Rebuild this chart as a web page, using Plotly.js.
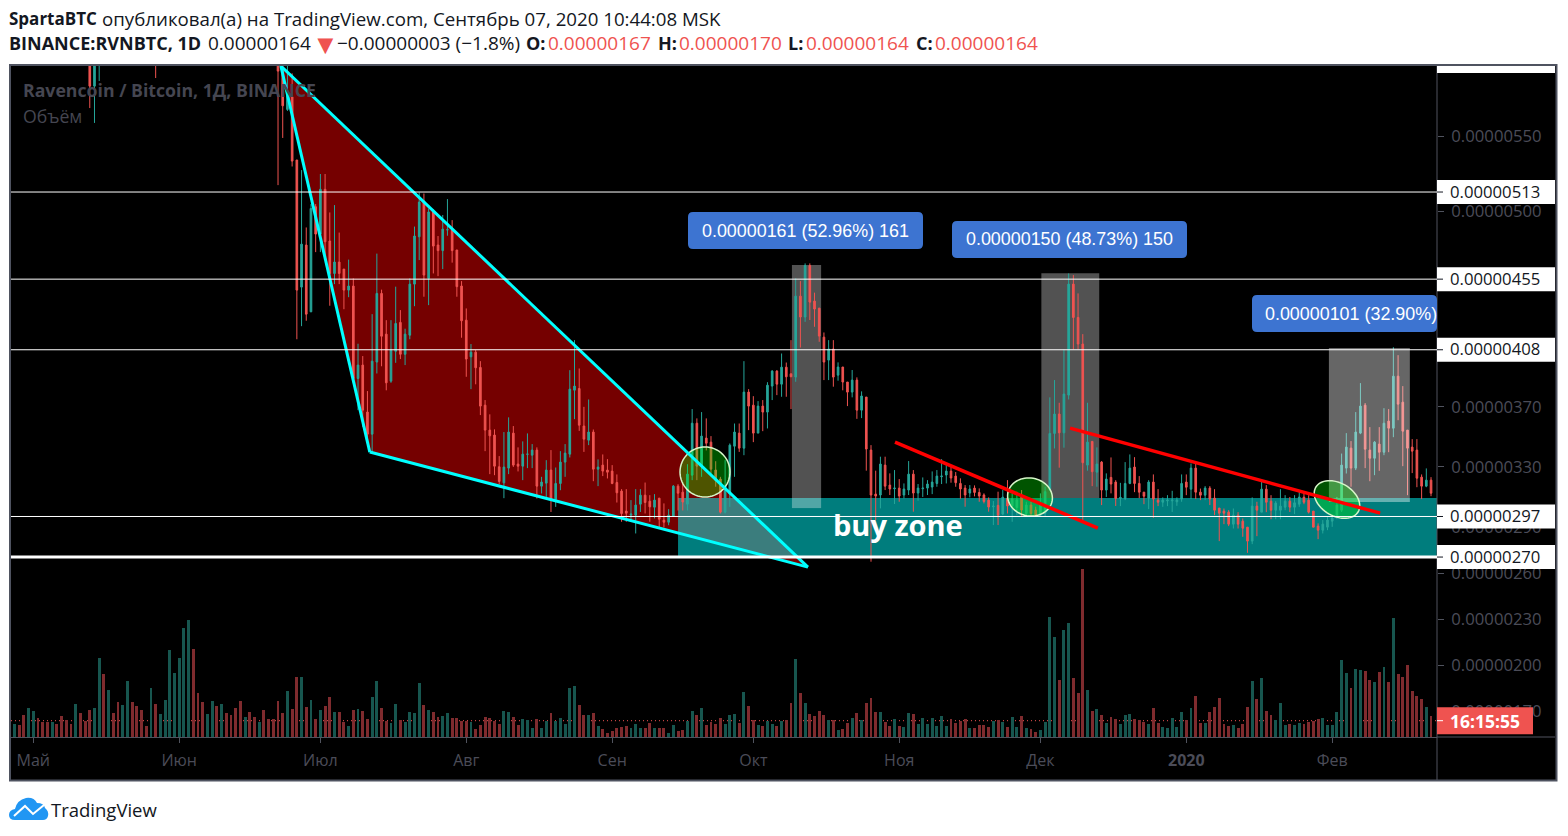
<!DOCTYPE html>
<html><head><meta charset="utf-8"><script src="https://cdn.plot.ly/plotly-3.0.1.min.js"></script>
<style>html,body{margin:0;padding:0;background:#fff}#c{width:1568px;height:836px}</style></head><body><div id="c"></div>
<script>
// Day index 0 = 1 May 2019. Prices in satoshi (1e-8 BTC).
const earlyDays=[12,13,14,26];
const earlyOpen=[640,583.5,610,640];
const earlyHigh=[650,630,625,650];
const earlyLow=[568.9,559,586.9,588.9];
const earlyClose=[583.5,620,620,610];
const firstDay=52;
const opens=[598,594,568,576.4,534.3,449.7,477.7,433.3,503.2,485,514.8,480.4,458.8,466.4,461.7,447.7,450.4,388.9,397.8,366.5,351.8,399.8,445.5,418.4,387.1,407,426.2,405,417.7,451.7,483.2,507,455.5,499.7,477.7,474,487.8,488,474.4,450.4,427.7,403.3,406.4,396.2,371.1,354.5,351.2,330.1,319.4,329.2,352.5,331.9,
330.5,338.4,337.8,341.2,317.2,319.2,327.9,308.3,319,333.2,338.5,381.1,382.2,357.2,347.8,353.2,328.5,331.2,327.9,327.2,319.6,313.9,300.6,297.9,297.9,305.2,311.2,307.2,303.2,309.2,294.6,293.2,297.2,317.2,313.2,305.2,324.5,359.1,330.5,349.2,346.5,327.9,321.9,299.9,311.9,343.8,352.5,342.5,379.8,371.1,352.5,370.5,366.5,383.8,393.8,385.1,396.4,
392,389.8,443.7,429.8,464.1,440.4,435.7,416.4,401.1,408.5,391.1,396.5,386.5,379.8,387.8,367.8,376.5,341.2,311.9,311.3,331.2,317.9,315.5,315.9,311.3,314.6,325.2,312.6,315.5,315.9,316.6,319,323.5,324.6,327.2,323.9,319,315.9,312.6,315.9,313,311.3,307.9,303.5,304.4,298.6,309.2,304,303,311.3,299,304.6,301.3,297.9,299,314.6,352.3,365.2,352.7,377.8,451.7,429.5,411.8,331.2,347,326.5,333.2,314.6,323,319.9,
309,309,319,329.9,319,313.2,309.2,319.9,307.9,306.5,307.4,307.4,306.8,308.6,319.9,315.2,329.2,313.2,311.2,315.9,309.2,302.6,300.6,299.9,291.9,297.9,293.9,289.9,280.6,303.9,299.9,315.2,307.2,301.2,301.2,303.2,307.2,303.2,305.2,309.9,307.9,300.6,290.6,287.9,289.9,293.9,296.8,301.2,329.2,342.5,329.2,352.5,371.1,341.2,335.8,345.2,339.8,360.5,355.8,390.4,373.1,354.5,343.2,341.2,323.2,317.2,321.2];
const highs=[610,602,597,592,534.3,527.6,489.4,505,505,525,525,499.4,504.3,486,461.7,468,455.5,412,403.8,380.5,431.7,472,448,427.7,427.7,450,434.4,422,455.5,490,512.7,512,502,501.4,483.7,497.7,508.3,494.3,474.4,453.7,435.5,411.8,407.8,400.4,374.5,365,355,337.2,353.2,363,357.2,343,
347,352.3,345.2,343,323.4,334.5,341.2,329.6,340.5,345.2,394.4,414.4,395.5,370,374.9,354.9,335,338.3,335.2,331.2,325,315.2,315.2,307.9,315.2,315.2,319.6,311.2,311.9,309.2,305.7,301.9,317.9,318.5,320,331.8,368.5,362.3,366.5,362.3,350.5,333.8,323.4,334.5,345.6,358.9,358.9,400.4,381.8,377.1,373.8,374.5,386.4,394.4,394.4,405.5,399.5,
414.4,455.5,453.7,465.5,465.5,446,435.7,419.5,414.4,414.4,399.6,396.5,386.5,394.5,389.6,380.3,376.5,344.5,327.5,336.8,336.8,325.7,327.9,321.9,319,333.9,327.9,318.6,323,321.2,327,327.9,335.2,332.3,330,326.6,322.4,317.9,317.9,317.7,315.7,312.4,309.7,307.3,313.5,314.6,321.2,312.4,313.5,314.6,306.8,306.8,303.5,312.4,316.8,376.3,387.8,372.7,408.2,458.8,457.7,445.5,418.4,372.7,347,343,333.9,325.7,336.3,321.2,
319.4,333.2,338.3,336.5,323.9,313.2,321.2,325,315.2,309.7,311.2,314.1,309.7,325,325,332.3,333.8,315.6,317.2,317.2,315.2,302.6,302.3,301.2,302.3,299.9,295.7,289.9,309.7,306.8,321.6,317.9,311.2,307.2,315.2,311.2,310,311.2,313.4,313.9,311.2,300.6,292.4,294.6,296.8,296.5,310,338.9,352.5,347.2,366.5,385.8,372.5,356.5,347.2,356.5,369.1,368.5,409.7,404.4,383.8,354.5,348.5,348.5,325,329,323.2];
const lows=[517.6,549,567,530,415,423.7,427.3,433,473,473,467.7,437.3,451.7,451.7,435,443,388,367.8,356.7,347.8,339,392.2,397,381,386,399.3,401.8,397.8,415,437,467.7,443.3,437.7,458.8,457,461.7,483.9,466,443.3,416,390,381.8,385,364.5,340.5,325.2,324.5,318.5,309.2,325.2,330,327,
321.2,329.2,329.2,309,312.3,310,300,303.4,314.5,323.4,336.3,361.8,354,340,344.5,320.5,317.2,323.9,322.3,318.5,306.3,293.5,293.5,294.6,285.7,300,299,293.5,295.7,289,289.7,291.2,296.8,301,301,301,321.2,321.2,323.4,341,325.6,316.8,299,299,303.4,323.4,340,337.8,354.5,346.5,352.5,353.8,355.6,374.5,377.8,376.7,376.7,
368.5,386.7,409.5,426.6,427.8,423.3,413.3,387.8,387.8,383.4,387.4,381,370.5,376.3,362,362.5,327.5,266.9,294.6,302.4,314.6,311.3,305.3,306.8,309,311.3,300.2,307.5,310,311.3,311.9,316.8,318.6,319,319.5,316.8,308.8,303.5,309.7,310.4,306.8,305.7,300.2,291.3,291.3,297.9,299,293.5,298,296.8,296.8,296.8,296.8,296.8,296.8,314.6,342.3,329.5,342.8,374.9,408.2,408.2,294.2,327.5,317.2,316.8,304.6,310,312.4,304,
303.9,307.9,318.5,313.2,309.2,305.2,301.9,296.1,303.9,303.4,303.9,300,304.1,306.8,311.2,308.6,308.6,307.9,307.9,304.6,297.9,280.6,291.9,290.6,289,289,283.5,272.8,278.6,283.9,299.9,299.9,295.2,295.2,295.2,301.2,300,298.6,303.4,305.2,299,289.9,281.9,285.7,287.9,290.1,295.2,300,325.6,316.8,327.9,351.8,329.2,320.5,324.5,327.4,337.8,339.8,349.8,361.1,330.5,311.2,325.9,316.5,308.6,316.5,310.5];
const closes=[593.5,570.4,580,533.6,447.7,478.3,431.7,502,485,514.8,479.9,458.8,466.4,458.8,447.7,450.4,388.9,397.8,367.8,351.8,400.4,445.5,417,386,407.8,425.5,405,418.4,451.7,483.7,506.3,457.7,499.7,477,474,488.3,487.9,474,450,427.3,401.8,406.4,396,370.5,354.5,350.7,330.5,320.3,329.9,353.2,331.2,330.5,
338.5,338.5,341.2,317.2,319.9,327.9,308.3,319,333.2,339.2,381.8,383.8,357.8,348.5,353.2,328.5,329.9,327.2,326.5,319,312.8,299,299.2,298.6,304.6,311.2,306.3,303.4,307.9,295.2,293.2,297.9,317.2,312.5,306.6,325.2,359.1,330.5,350.5,345.8,328.5,321,299.9,317.4,344.5,353.2,342.5,379.8,370.5,352.5,370.5,366.5,384.4,393.8,385.1,396.4,390,
390,443.7,429.8,464.1,439.7,435.1,417.1,399.8,408.5,389.8,396.5,386.5,379.8,387.8,367.8,377.2,341.9,311.3,310.6,331.9,317.2,315.3,315.9,310.6,315.3,325.2,312.6,315.9,315.9,318.6,319.9,323.9,323.9,327.2,322.6,319.5,315.3,311.3,315.3,313,310.6,307,303.3,303.9,297.9,309.9,304,308.8,308,301.3,304.6,299,297.9,305.7,313.5,352.3,365.2,352.7,378.5,451.7,429.5,411.8,332.8,346.5,326.8,331.9,314.6,321.9,318.6,309,
309.7,319,329.2,319,313.2,310.5,319.9,308.6,306.5,307.9,307.9,307.9,307.9,319,316.5,329.2,313.2,311.2,315.9,308.6,301.2,299.2,299.2,291.9,297.9,291.9,289.2,280.6,303.9,301.2,315.2,306.5,301.2,305.9,303.9,307.2,303.2,306.1,309.9,306.5,299.9,289.9,287.9,291.9,294.6,296.1,304.6,331.2,343.2,329.2,353.2,370.5,341.8,335.8,346.5,339.8,359.1,355.8,390.4,371.8,353.8,342.5,340.5,322.5,317.2,321.2,312.5];
const volFirstDay=-4;
const volume=[39,36,66,87,78,57,45,45,45,39,63,51,39,99,72,48,81,87,237,189,141,72,105,96,168,105,93,81,33,147,99,69,111,261,192,237,327,351,264,132,105,69,108,93,99,72,66,87,108,60,75,60,45,81,54,54,108,72,138,84,180,180,90,111,54,81,93,120,75,75,45,33,81,84,78,54,120,168,87,48,42,99,51,45,75,72,162,96,81,75,60,63,72,57,57,48,48,45,24,36,60,57,48,39,78,75,60,36,
54,50,27,54,27,48,72,48,57,39,147,153,96,66,66,72,33,24,12,18,27,30,33,27,39,27,27,42,27,27,27,12,36,18,21,48,78,66,87,36,45,39,57,39,66,69,42,135,93,51,36,33,48,39,33,48,51,102,234,132,102,69,63,78,66,51,51,21,24,42,57,72,51,102,117,75,75,45,33,54,33,30,72,69,39,57,39,57,33,63,33,54,42,48,54,27,27,36,36,30,48,51,45,30,60,30,63,27,24,15,
21,45,360,300,171,321,342,177,132,504,141,78,84,66,42,60,54,39,66,69,54,51,45,39,87,42,30,27,57,30,75,51,87,123,42,42,75,90,117,39,33,36,27,39,90,168,114,177,78,66,51,102,36,39,36,42,39,45,48,54,57,36,36,75,231,192,147,204,201,198,171,165,195,210,165,357,189,180,216,138,123,114,90,63];
const volDirs=("grrggrrrgr rrrgrrrggr grrggrrrrg rgggggggrr rggrgrrrrg rrgrrrrrgr rgrgrgrrgr rgrgrrggrr ggrggggrgr rggrrrrgrr rrrrggrr "+
"gggrggrggg ggrrgrgrrr rrrgggrrgr rggrrggrgr rrrgggrgrr grggrgrrgr grrrrgrgrr grgrrrgrrg rggrgggggg grrrrgrrrr grgrggrgrr "+
"ggggrggrrr grgrgrrggg rrrgrrgggg grgrrgrrrr rgrrrgrgrr gggrggrrrr ggggggrggr rgrgrgrrrr rrgr").replace(/ /g,"").split("");
const months=[0,31,61,92,123,153,184,214,245,276];
const monthLabels=["Май","Июн","Июл","Авг","Сен","Окт","Ноя","Дек","<b>2020</b>","Фев"];
const upperTicks=[290,330,370,500,550];
const lowerTicks=[170,200,230,260];
const levels=[513,455,408,297,270];
const lastPrice=164;
const wedge=[[52.6,596.9],[71.5,339.9],[164.6,263.3]];

const X0=11,X1=1437,Y0=66,Y1=737;
const px=x=>(x-X0)/(X1-X0), py=y=>1-(y-Y0)/(Y1-Y0);
const xRange=[-4.74,298.27];
const rng=[150.2,596.9], rngLow=[153.4,589.7];
const grey="#50535e",txt="#4b4c58",up="#26a69a",dn="#ef5350";
const fmt=v=>(v*1e-8).toFixed(8);

const days=earlyDays.concat(opens.map((_,i)=>firstDay+i));
const volX=volume.map((_,i)=>volFirstDay+i);

const traces=[
 {type:"bar",x:volX,y:volume,yaxis:"y3",xaxis:"x",width:0.62,marker:{color:volume.map((_,i)=>volDirs[i]==="g"?"#17564f":"#7f2b2e"),line:{width:0}},hoverinfo:"skip"},
 {type:"candlestick",x:days,open:earlyOpen.concat(opens),high:earlyHigh.concat(highs),low:earlyLow.concat(lows),close:earlyClose.concat(closes),
  increasing:{line:{color:up,width:1},fillcolor:up},decreasing:{line:{color:dn,width:1},fillcolor:dn},whiskerwidth:0,xaxis:"x",yaxis:"y",hoverinfo:"skip"},
 {type:"scatter",mode:"lines",x:xRange,y:[lastPrice,lastPrice],yaxis:"y2",xaxis:"x",line:{color:dn,width:1,dash:"1px,3px"},hoverinfo:"skip"}
];

function rectPx(x0,y0,x1,y1,fill,layer,line){return {type:"rect",xref:"paper",yref:"paper",x0:px(x0),x1:px(x1),y0:py(y0),y1:py(y1),fillcolor:fill,layer:layer||"above",line:line||{width:0}}}
function roundPath(x0,y0,x1,y1,r){const f=(x,y)=>px(x)+","+py(y);
 return "M"+f(x0+r,y0)+" L"+f(x1-r,y0)+" Q"+f(x1,y0)+" "+f(x1,y0+r)+" L"+f(x1,y1-r)+" Q"+f(x1,y1)+" "+f(x1-r,y1)+" L"+f(x0+r,y1)+" Q"+f(x0,y1)+" "+f(x0,y1-r)+" L"+f(x0,y0+r)+" Q"+f(x0,y0)+" "+f(x0+r,y0)+" Z";}
function ellipsePath(cx,cy,rx,ry,deg){const a=deg*Math.PI/180;let s="";for(let i=0;i<=64;i++){const t=i/64*2*Math.PI,x=rx*Math.cos(t),y=ry*Math.sin(t);
 s+=(i?" L":"M")+px(cx+x*Math.cos(a)-y*Math.sin(a))+","+py(cy+x*Math.sin(a)+y*Math.cos(a));}return s+" Z";}
function pxPath(pts,close){return pts.map((p,i)=>(i?"L":"M")+px(p[0])+","+py(p[1])).join(" ")+(close?" Z":"");}
function lineD(a,b,color,w){return {type:"line",xref:"x",yref:"y",x0:a[0],y0:a[1],x1:b[0],y1:b[1],line:{color:color,width:w},layer:"above"}}
function lineP(x0,y0,x1,y1,color,w){return {type:"line",xref:"paper",yref:"paper",x0:px(x0),y0:py(y0),x1:px(x1),y1:py(y1),line:{color:color,width:w},layer:"above"}}

const wedgePath="M"+wedge.map(p=>p.join(",")).join(" L")+" Z";
const grayRect=(a,b,c,d,fill,layer)=>({type:"rect",xref:"x",yref:"y",x0:a,x1:b,y0:c,y1:d,fillcolor:fill,line:{width:0},layer:layer});
const ellipseStyle={fillcolor:"rgba(0,255,0,.33)",line:{color:"#d6f5c8",width:1.5},layer:"above",type:"path",xref:"paper",yref:"paper"};
const tagRight=px(1555);

const shapes=[
 rectPx(10,65,1556.5,780.5,"#000","below",{color:"#4f5360",width:2}),
 {type:"path",xref:"x",yref:"y",path:wedgePath,fillcolor:"#750000",line:{width:0},layer:"below"},
 {type:"rect",xref:"x",yref:"y",x0:137,x1:xRange[1],y0:270,y1:309.3,fillcolor:"rgba(0,255,255,.49)",line:{width:0},layer:"below"},
 grayRect(161.2,167.4,309.3,464.4,"#525252","below"),
 grayRect(161.2,167.4,302.6,309.3,"rgba(255,255,255,0.32)","below"),
 grayRect(214.2,226.5,309.3,459,"#525252","below"),
 grayRect(275.3,292.5,306.6,409.1,"rgba(255,255,255,0.4)","above"),
 Object.assign({path:ellipsePath(705,472,25,25,0)},ellipseStyle),
 Object.assign({path:ellipsePath(1030,497,22.5,19,10)},ellipseStyle),
 Object.assign({path:ellipsePath(1337,499.5,24.5,16.5,30)},ellipseStyle),
 lineD(wedge[0],wedge[2],"#00ffff",3),
 lineD(wedge[0],wedge[1],"#00ffff",3),
 lineD(wedge[1],wedge[2],"#00ffff",3),
 lineD([183.1,346.5],[226.2,289.3],"#ff0000",3.5),
 lineD([220.3,355.8],[286.2,299.2],"#ff0000",3.5),
 lineP(X1,Y0,X1,780,grey,1),
 lineP(X1,Y1,1555,Y1,grey,1),
 rectPx(X1,66,1555,73,"#fff"),
 ...levels.map(v=>({type:"line",xref:"x",yref:"y",x0:xRange[0],x1:xRange[1],y0:v,y1:v,line:{color:"#fff",width:v===270?3:1},layer:"above"})),
 ...levels.map(v=>({type:"rect",xref:"paper",yref:"y",x0:1,x1:tagRight,ysizemode:"pixel",yanchor:v,y0:-12,y1:12,fillcolor:"#fff",line:{width:0},layer:"above"})),
 ...levels.map(v=>({type:"line",xref:"paper",yref:"y",x0:1,x1:px(1443),y0:v,y1:v,line:{color:"#131722",width:1},layer:"above"})),
 {type:"rect",xref:"paper",yref:"y2",x0:1,x1:px(1533),ysizemode:"pixel",yanchor:lastPrice,y0:-13.5,y1:13.5,fillcolor:dn,line:{width:0},layer:"above"},
 {type:"line",xref:"paper",yref:"y2",x0:1,x1:px(1443),y0:lastPrice,y1:lastPrice,line:{color:"#fff",width:1},layer:"above"},
 {type:"path",xref:"paper",yref:"paper",path:roundPath(688,212,923,249,5),fillcolor:"#3d74d1",line:{width:0},layer:"above"},
 {type:"path",xref:"paper",yref:"paper",path:roundPath(952,221,1187,258,5),fillcolor:"#3d74d1",line:{width:0},layer:"above"},
 {type:"path",xref:"paper",yref:"paper",path:roundPath(1252,295,1437,332,5),fillcolor:"#3d74d1",line:{width:0},layer:"above"},
 {type:"path",xref:"paper",yref:"paper",layer:"above",fillcolor:"#2196f3",line:{width:0},
  path:(()=>{const f=(x,y)=>px(x)+","+py(y);return "M"+f(15,820)+" Q"+f(9,820)+" "+f(9,815)+" Q"+f(9,810)+" "+f(15,809)+" Q"+f(17,800)+" "+f(26,798)+" Q"+f(34,797)+" "+f(37,803)+" Q"+f(44,803)+" "+f(45,808)+" Q"+f(49,811)+" "+f(48,816)+" Q"+f(47,820)+" "+f(43,820)+" Z"})()},
 {type:"path",xref:"paper",yref:"paper",layer:"above",line:{color:"#fff",width:2},path:pxPath([[14,816],[25,806],[33,814],[44,805]])}
];

const ann=(x,y,t,o)=>Object.assign({xref:"paper",yref:"paper",x:px(x-2),y:py(y),text:t,showarrow:false,xanchor:"left",yanchor:"middle",align:"left",font:{family:"Open Sans",size:18.7,color:"#131722"}},o||{});
const hd=(size,color)=>({font:{family:"Open Sans",size:size,color:color||"#131722"}});
const annotations=[
 ann(9,18,"<b>SpartaBTC</b>",hd(17)),
 ann(102,18,"опубликовал(а) на TradingView.com, Сентябрь 07, 2020 10:44:08 MSK",hd(18.7)),
 ann(9,43,"<b>BINANCE:RVNBTC, 1D</b>",hd(18)),
 ann(208,43,"0.00000164",hd(19)),
 ann(312,43,"▼",hd(27,dn)),
 ann(337,43,"−0.00000003 (−1.8%)",hd(19)),
 ann(526,43,"<b>O:</b>",hd(18)),ann(548,43,"0.00000167",hd(19,dn)),
 ann(658,43,"<b>H:</b>",hd(18)),ann(679,43,"0.00000170",hd(19,dn)),
 ann(788,43,"<b>L:</b>",hd(18)),ann(806,43,"0.00000164",hd(19,dn)),
 ann(916,43,"<b>C:</b>",hd(18)),ann(935,43,"0.00000164",hd(19,dn)),
 ann(23,90,"<b>Ravencoin / Bitcoin, 1Д, BINANCE</b>",{font:{family:"Open Sans",size:17.7,color:"#454651"}}),
 ann(23,116,"Объём",{font:{family:"Open Sans",size:17.7,color:"#454651"}}),
 ann(805,230.5,"0.00000161 (52.96%) 161",{xanchor:"center",x:px(805),font:{family:"Liberation Sans",size:17.9,color:"#fff"}}),
 ann(1069,239.5,"0.00000150 (48.73%) 150",{xanchor:"center",x:px(1069),font:{family:"Liberation Sans",size:17.9,color:"#fff"}}),
 ann(1351,313.5,"0.00000101 (32.90%)",{xanchor:"center",x:px(1351),font:{family:"Liberation Sans",size:17.9,color:"#fff"}}),
 ann(898,524,"<b>buy zone</b>",{xanchor:"center",x:px(898),font:{family:"Open Sans",size:29,color:"#fff"}}),
 ...levels.map(v=>({xref:"paper",yref:"y",x:px(1448),y:v,yshift:1,text:fmt(v),showarrow:false,xanchor:"left",yanchor:"middle",font:{family:"Open Sans",size:16.7,color:"#131722"}})),
 {xref:"paper",yref:"y2",x:px(1448),y:lastPrice,text:"<b>16:15:55</b>",showarrow:false,xanchor:"left",yanchor:"middle",font:{family:"Open Sans",size:17.5,color:"#fff"}},
 ann(51,809,"TradingView",{font:{family:"Open Sans",size:18.5,color:"#131722"}})
];

const yCommon={side:"right",anchor:"x",showgrid:false,zeroline:false,showline:false,ticks:"outside",ticklen:6,tickcolor:grey,tickwidth:1,tickmode:"array",tickfont:{family:"Open Sans",size:16.7,color:txt},ticklabelstandoff:4,fixedrange:true};
const layout={
 width:1568,height:836,paper_bgcolor:"#fff",plot_bgcolor:"#000",showlegend:false,dragmode:false,boxgap:0.5,
 margin:{l:X0,r:1568-X1,t:Y0,b:836-Y1,pad:0},
 bargap:0,
 xaxis:{range:xRange,tickmode:"array",tickvals:months,ticktext:monthLabels,showgrid:false,zeroline:false,showline:true,linecolor:grey,linewidth:1,ticks:"outside",ticklen:5,tickcolor:grey,tickfont:{family:"Open Sans",size:16,color:txt},ticklabelstandoff:4,rangeslider:{visible:false},fixedrange:true},
 yaxis:Object.assign({},yCommon,{range:rng,tickvals:upperTicks,ticktext:upperTicks.map(fmt)}),
 yaxis2:Object.assign({},yCommon,{range:rngLow,overlaying:"y",tickvals:lowerTicks,ticktext:lowerTicks.map(fmt)}),
 yaxis3:{range:[0,2013],overlaying:"y",side:"left",visible:false,fixedrange:true},
 shapes:shapes,annotations:annotations
};
Plotly.newPlot("c",traces,layout,{displayModeBar:false,staticPlot:true});
</script></body></html>
